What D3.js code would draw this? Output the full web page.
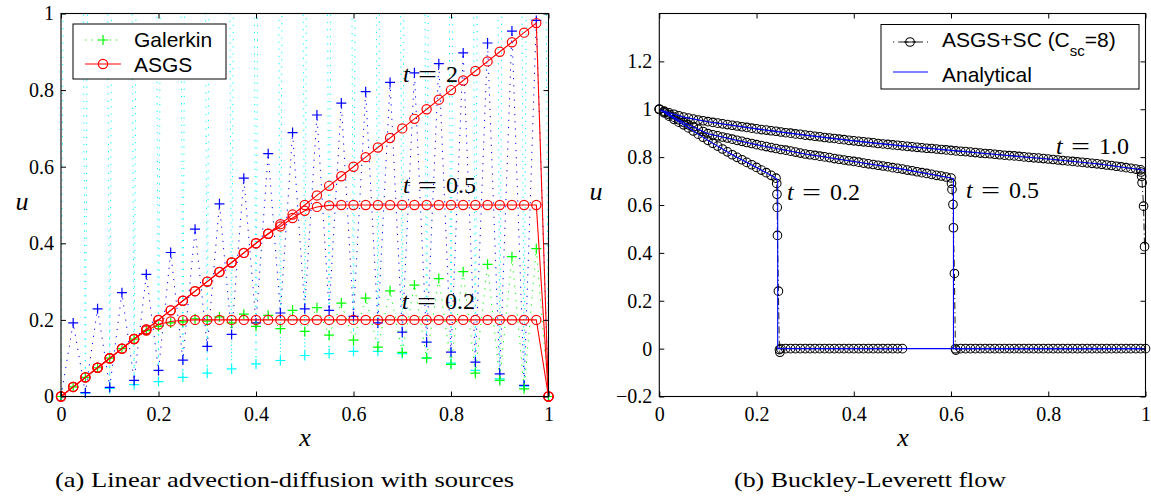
<!DOCTYPE html>
<html>
<head>
<meta charset="utf-8">
<script src="https://cdn.jsdelivr.net/npm/d3@7"></script>
<style>
body { margin: 0; background: #fff; }
</style>
</head>
<body>
<svg id="fig" width="1151" height="496"></svg>
<script>
// ---- left panel: linear advection-diffusion, mesh h = 0.025
var xNodes = [0,0.025,0.05,0.075,0.1,0.125,0.15,0.175,0.2,0.225,0.25,0.275,0.3,0.325,0.35,0.375,0.4,0.425,0.45,0.475,
  0.5,0.525,0.55,0.575,0.6,0.625,0.65,0.675,0.7,0.725,0.75,0.775,0.8,0.825,0.85,0.875,0.9,0.925,0.95,0.975,1];

// Galerkin (odd/even oscillation), t = 2 (blue), t = 0.5 (cyan), t = 0.2 (green)
var galT2 = [0,0.192,0.010,0.229,0.024,0.271,0.042,0.319,0.068,0.376,0.095,0.437,0.131,0.503,0.162,0.570,0.192,0.634,0.218,0.689,
  0.229,0.735,0.225,0.766,0.209,0.796,0.192,0.820,0.168,0.845,0.142,0.869,0.116,0.897,0.090,0.923,0.059,0.954,0.029,0.982,0];
var galT05 = [0,5.8,0.009,6.1,0.021,6.3,0.031,6.4,0.039,6.6,0.050,6.7,0.061,6.8,0.072,6.9,0.085,7.0,0.094,7.0,
  0.107,7.1,0.112,7.1,0.118,7.0,0.118,7.0,0.112,6.9,0.101,6.8,0.087,6.6,0.068,6.4,0.046,6.0,0.027,5.5,0];
var galT02 = [0,0.025,0.05,0.075,0.1,0.125,0.15,0.172,0.183,0.192,0.195,0.203,0.197,0.208,0.192,0.215,0.183,0.212,0.177,0.225,
  0.170,0.232,0.160,0.244,0.147,0.257,0.129,0.276,0.115,0.291,0.100,0.308,0.084,0.326,0.061,0.345,0.042,0.365,0.020,0.386,0];

// ASGS
var asgsT2 = [0,0.025,0.05,0.075,0.1,0.125,0.15,0.175,0.2,0.225,0.25,0.275,0.3,0.325,0.35,0.375,0.4,0.425,0.45,0.475,
  0.5,0.525,0.55,0.575,0.6,0.625,0.65,0.675,0.7,0.725,0.75,0.775,0.8,0.825,0.85,0.875,0.9,0.925,0.95,0.975,0];
var asgsT05 = [0,0.025,0.05,0.075,0.1,0.125,0.15,0.175,0.2,0.225,0.25,0.275,0.3,0.325,0.35,0.375,0.4,0.425,0.444,0.466,
  0.485,0.495,0.499,0.5,0.5,0.5,0.5,0.5,0.5,0.5,0.5,0.5,0.5,0.5,0.5,0.5,0.5,0.5,0.5,0.5,0];
var asgsT02 = [0,0.025,0.05,0.075,0.1,0.125,0.15,0.172,0.188,0.196,0.199,0.2,0.2,0.2,0.2,0.2,0.2,0.2,0.2,0.2,
  0.2,0.2,0.2,0.2,0.2,0.2,0.2,0.2,0.2,0.2,0.2,0.2,0.2,0.2,0.2,0.2,0.2,0.2,0.2,0.2,0];

// ---- right panel: Buckley-Leverett, mesh h = 0.01
var meshR = [0,0.01,0.02,0.03,0.04,0.05,0.06,0.07,0.08,0.09,0.1,0.11,0.12,0.13,0.14,0.15,0.16,0.17,0.18,0.19,
  0.2,0.21,0.22,0.23,0.24,0.25,0.26,0.27,0.28,0.29,0.3,0.31,0.32,0.33,0.34,0.35,0.36,0.37,0.38,0.39,
  0.4,0.41,0.42,0.43,0.44,0.45,0.46,0.47,0.48,0.49,0.5,0.51,0.52,0.53,0.54,0.55,0.56,0.57,0.58,0.59,
  0.6,0.61,0.62,0.63,0.64,0.65,0.66,0.67,0.68,0.69,0.7,0.71,0.72,0.73,0.74,0.75,0.76,0.77,0.78,0.79,
  0.8,0.81,0.82,0.83,0.84,0.85,0.86,0.87,0.88,0.89,0.9,0.91,0.92,0.93,0.94,0.95,0.96,0.97,0.98,0.99,1];

// ASGS+SC, t = 1.0 : nodes 0..0.99 then points at the front
var bl10Head = [1.000,0.992,0.985,0.979,0.973,0.967,0.963,0.959,0.955,0.952,
  0.948,0.945,0.942,0.939,0.936,0.933,0.930,0.927,0.924,0.921,
  0.918,0.915,0.913,0.910,0.908,0.905,0.902,0.900,0.897,0.895,
  0.892,0.890,0.887,0.885,0.882,0.880,0.878,0.875,0.873,0.870,
  0.868,0.866,0.864,0.862,0.860,0.857,0.855,0.853,0.851,0.849,
  0.847,0.845,0.843,0.841,0.839,0.837,0.836,0.834,0.832,0.830,
  0.828,0.826,0.824,0.823,0.821,0.819,0.817,0.815,0.814,0.812,
  0.810,0.808,0.806,0.805,0.803,0.801,0.799,0.797,0.796,0.794,
  0.792,0.790,0.788,0.786,0.784,0.782,0.780,0.778,0.776,0.774,
  0.772,0.770,0.767,0.765,0.762,0.759,0.756,0.753,0.750,0.747];
var bl10FrontX = [0.991,0.992,0.993,0.996,0.998];
var bl10FrontU = [0.738,0.720,0.693,0.595,0.426];

// t = 0.5 : nodes 0..0.60, front, zeros 0.62..1
var bl05Head = [1.000,0.989,0.978,0.967,0.956,0.945,0.935,0.926,0.916,0.907,
  0.898,0.893,0.889,0.884,0.880,0.875,0.870,0.866,0.861,0.857,
  0.852,0.848,0.844,0.840,0.836,0.832,0.829,0.825,0.821,0.817,
  0.813,0.810,0.807,0.804,0.801,0.798,0.794,0.791,0.788,0.785,
  0.782,0.779,0.775,0.772,0.769,0.766,0.763,0.760,0.756,0.753,
  0.750,0.746,0.743,0.739,0.735,0.732,0.728,0.724,0.721,0.717,0.713];
var bl05FrontX = [0.601,0.602,0.604,0.605,0.607,0.609,0.61];
var bl05FrontU = [0.690,0.665,0.602,0.505,0.314,0.0,-0.006];
var bl05Tail = [0,0,0,0,0,0,0,0,0,0,0,0,0,0,0,0,0,0,0,0,0,0,0,0,0,0,0,0,0,0,0,0,0,0,0,0,0,0,0]; // meshR[62..100]

// t = 0.2 : nodes 0..0.24, front, zeros 0.26..0.5
var bl02Head = [1.000,0.985,0.971,0.958,0.946,0.935,0.922,0.909,0.896,0.883,
  0.870,0.858,0.846,0.834,0.822,0.810,0.799,0.789,0.778,0.768,
  0.757,0.746,0.735,0.724,0.712];
var bl02FrontX = [0.2415,0.242,0.2425,0.243,0.245,0.247,0.248,0.25];
var bl02FrontU = [0.690,0.645,0.590,0.473,0.240,-0.004,-0.015,0.0];
var bl02Tail = [0,0,0,0,0,0,0,0,0,0,0,0,0,0,0,0,0,0,0,0,0,0,0,0,0]; // meshR[26..50]

// analytical solutions
var an02X = [0,0.05,0.1,0.15,0.2,0.235,0.2435,0.2435,1];
var an02U = [1,0.935,0.87,0.81,0.757,0.718,0.705,0,0];
var an05X = [0,0.05,0.1,0.2,0.3,0.4,0.5,0.6,0.605,0.605,1];
var an05U = [1,0.945,0.898,0.852,0.813,0.782,0.75,0.713,0.71,0,0];
var an10X = [0,0.02,0.05,0.1,0.2,0.3,0.4,0.5,0.6,0.7,0.8,0.9,1];
var an10U = [1,0.985,0.967,0.948,0.918,0.892,0.868,0.847,0.828,0.81,0.792,0.772,0.745];

var xTicks = [0,0.2,0.4,0.6,0.8,1];
var yTicksL = [0,0.2,0.4,0.6,0.8,1];
var yTicksR = [-0.2,0,0.2,0.4,0.6,0.8,1,1.2];

var serif = "'Liberation Serif','Times New Roman',serif";
var sans = "'Liberation Sans',Arial,sans-serif";

var svg = d3.select("#fig");

function pts(xs, us) { return xs.map(function(d, i) { return [d, us[i]]; }); }

function makePanel(id, xr, yr, ydom) {
  var p = {};
  p.x = d3.scaleLinear().domain([0, 1]).range(xr);
  p.y = d3.scaleLinear().domain(ydom).range(yr);
  svg.append("clipPath").attr("id", id).append("rect")
    .attr("x", xr[0]).attr("y", yr[1])
    .attr("width", xr[1] - xr[0]).attr("height", yr[0] - yr[1]);
  p.clip = "url(#" + id + ")";
  p.line = d3.line().x(function(d) { return p.x(d[0]); }).y(function(d) { return p.y(d[1]); });
  p.inside = function(d) { return d[1] >= ydom[0] - 1e-9 && d[1] <= ydom[1] + 1e-9; };
  return p;
}

function fmt(d) { return d < 0 ? "\u2212" + (-d) : String(d); }

function drawAxes(p, yTicks) {
  var xr = p.x.range(), yr = p.y.range();
  function style(g, labels) {
    g.select(".domain").remove();
    g.selectAll("line").attr("stroke", "#000");
    g.selectAll("text").attr("fill", "#000");
    g.attr("font-family", serif).attr("font-size", 20);
    if (!labels) g.selectAll("text").remove();
  }
  svg.append("g").attr("transform", "translate(0," + yr[0] + ")")
    .call(d3.axisBottom(p.x).tickValues(xTicks).tickFormat(fmt).tickSizeInner(-5).tickSizeOuter(0).tickPadding(10))
    .call(style, true);
  svg.append("g").attr("transform", "translate(0," + yr[1] + ")")
    .call(d3.axisTop(p.x).tickValues(xTicks).tickSizeInner(-5).tickSizeOuter(0))
    .call(style, false);
  svg.append("g").attr("transform", "translate(" + xr[0] + ",0)")
    .call(d3.axisLeft(p.y).tickValues(yTicks).tickFormat(fmt).tickSizeInner(-5).tickSizeOuter(0).tickPadding(7))
    .call(style, true);
  svg.append("g").attr("transform", "translate(" + xr[1] + ",0)")
    .call(d3.axisRight(p.y).tickValues(yTicks).tickSizeInner(-5).tickSizeOuter(0))
    .call(style, false);
  svg.append("rect")
    .attr("x", xr[0]).attr("y", yr[1])
    .attr("width", xr[1] - xr[0]).attr("height", yr[0] - yr[1])
    .attr("fill", "none").attr("stroke", "#000").attr("stroke-width", 1.1);
}

function plus(g, data, p, color) {
  g.selectAll(null).data(data.filter(p.inside)).enter().append("path")
    .attr("d", "M-5,0H5M0,-5V5")
    .attr("transform", function(d) { return "translate(" + p.x(d[0]) + "," + p.y(d[1]) + ")"; })
    .attr("stroke", color).attr("stroke-width", 1.2).attr("fill", "none");
}

function rings(g, data, p, color, r, w) {
  g.selectAll(null).data(data.filter(p.inside)).enter().append("circle")
    .attr("cx", function(d) { return p.x(d[0]); })
    .attr("cy", function(d) { return p.y(d[1]); })
    .attr("r", r).attr("fill", "none").attr("stroke", color).attr("stroke-width", w);
}

function mathLabel(x, y, val) {
  var t = svg.append("text").attr("y", y).attr("font-family", serif).attr("font-size", 24).attr("fill", "#000");
  t.append("tspan").attr("x", x).attr("font-style", "italic").text("t");
  t.append("tspan").attr("x", x + 15).attr("textLength", 19).attr("lengthAdjust", "spacingAndGlyphs").text("=");
  t.append("tspan").attr("x", x + 43).text(val);
}

// ================= LEFT PANEL =================
var L = makePanel("clipL", [61, 548.5], [396.5, 13.5], [0, 1]);
var gL = svg.append("g");

var galSeries = [
  {u: galT05, c: "#00ffff"},
  {u: galT2, c: "#0000ff"},
  {u: galT02, c: "#00ff00"}
];
galSeries.forEach(function(s) {
  var d = pts(xNodes, s.u);
  gL.append("path").attr("d", L.line(d)).attr("clip-path", L.clip)
    .attr("fill", "none").attr("stroke", s.c).attr("stroke-width", 1)
    .attr("stroke-dasharray", "1.2,6");
  plus(gL, d, L, s.c);
});

[asgsT02, asgsT05, asgsT2].forEach(function(u) {
  var d = pts(xNodes, u);
  gL.append("path").attr("d", L.line(d)).attr("clip-path", L.clip)
    .attr("fill", "none").attr("stroke", "#ff0000").attr("stroke-width", 1.1);
  rings(gL, d, L, "#ff0000", 4.6, 1.2);
});

drawAxes(L, yTicksL);

mathLabel(403, 82, "2");
mathLabel(403, 193, "0.5");
mathLabel(402, 309, "0.2");

// legend
var lgL = svg.append("g");
lgL.append("rect").attr("x", 73).attr("y", 24).attr("width", 153).attr("height", 55)
  .attr("fill", "#fff").attr("stroke", "#000").attr("stroke-width", 1);
lgL.append("line").attr("x1", 85).attr("x2", 121).attr("y1", 40).attr("y2", 40)
  .attr("stroke", "#00ff00").attr("stroke-dasharray", "1.2,5");
lgL.append("path").attr("d", "M98,40H108M103,35V45").attr("stroke", "#00ff00").attr("stroke-width", 1.2);
lgL.append("line").attr("x1", 85).attr("x2", 121).attr("y1", 64).attr("y2", 64)
  .attr("stroke", "#ff0000").attr("stroke-width", 1.1);
lgL.append("circle").attr("cx", 103).attr("cy", 64).attr("r", 4.6)
  .attr("fill", "none").attr("stroke", "#ff0000").attr("stroke-width", 1.2);
lgL.append("text").attr("x", 134).attr("y", 47).attr("font-family", sans).attr("font-size", 21).text("Galerkin");
lgL.append("text").attr("x", 134).attr("y", 72).attr("font-family", sans).attr("font-size", 21).text("ASGS");

svg.append("text").attr("x", 305).attr("y", 446).attr("text-anchor", "middle")
  .attr("font-family", serif).attr("font-style", "italic").attr("font-size", 26).text("x");
svg.append("text").attr("x", 22).attr("y", 210).attr("text-anchor", "middle")
  .attr("font-family", serif).attr("font-style", "italic").attr("font-size", 26).text("u");
svg.append("text").attr("x", 55).attr("y", 487).attr("textLength", 459).attr("lengthAdjust", "spacingAndGlyphs")
  .attr("font-family", serif).attr("font-size", 21).text("(a) Linear advection-diffusion with sources");

// ================= RIGHT PANEL =================
var R = makePanel("clipR", [659.3, 1145.5], [396.5, 13.5], [-0.2, 1.4]);
var gR = svg.append("g");

function blSeries(head, fx, fu, tail, tailStart) {
  var d = pts(meshR.slice(0, head.length), head).concat(pts(fx, fu));
  if (tail) d = d.concat(pts(meshR.slice(tailStart, tailStart + tail.length), tail));
  return d;
}
var bl = [
  blSeries(bl10Head, bl10FrontX, bl10FrontU, null, 0),
  blSeries(bl05Head, bl05FrontX, bl05FrontU, bl05Tail, 62),
  blSeries(bl02Head, bl02FrontX, bl02FrontU, bl02Tail, 26)
];
bl.forEach(function(d) {
  gR.append("path").attr("d", R.line(d)).attr("clip-path", R.clip)
    .attr("fill", "none").attr("stroke", "#000").attr("stroke-width", 0.9)
    .attr("stroke-dasharray", "7,3,1.2,3");
  rings(gR, d, R, "#000", 4.3, 1.05);
});

[pts(an02X, an02U), pts(an05X, an05U), pts(an10X, an10U)].forEach(function(d) {
  gR.append("path").attr("d", R.line(d)).attr("clip-path", R.clip)
    .attr("fill", "none").attr("stroke", "#0000ff").attr("stroke-width", 1.1);
});

drawAxes(R, yTicksR);

mathLabel(787, 200, "0.2");
mathLabel(966, 198, "0.5");
mathLabel(1056, 154, "1.0");

var lgR = svg.append("g");
lgR.append("rect").attr("x", 881).attr("y", 24.5).attr("width", 258).attr("height", 64.5)
  .attr("fill", "#fff").attr("stroke", "#000").attr("stroke-width", 1);
lgR.append("line").attr("x1", 893).attr("x2", 928).attr("y1", 42).attr("y2", 42)
  .attr("stroke", "#000").attr("stroke-width", 0.9).attr("stroke-dasharray", "1.2,4,1.2,0,8,0");
lgR.append("line").attr("x1", 904).attr("x2", 916).attr("y1", 42).attr("y2", 42)
  .attr("stroke", "#000").attr("stroke-width", 0.9);
lgR.append("circle").attr("cx", 910).attr("cy", 42).attr("r", 4.3)
  .attr("fill", "none").attr("stroke", "#000").attr("stroke-width", 1.05);
lgR.append("line").attr("x1", 893).attr("x2", 928).attr("y1", 72).attr("y2", 72)
  .attr("stroke", "#0000ff").attr("stroke-width", 1.1);
var t1 = lgR.append("text").attr("x", 942).attr("y", 47).attr("font-family", sans).attr("font-size", 21);
t1.append("tspan").text("ASGS+SC (C");
t1.append("tspan").attr("font-size", 15).attr("dy", 9).text("sc");
t1.append("tspan").attr("dy", -9).text("=8)");
lgR.append("text").attr("x", 942).attr("y", 82).attr("font-family", sans).attr("font-size", 21).text("Analytical");

svg.append("text").attr("x", 903).attr("y", 446).attr("text-anchor", "middle")
  .attr("font-family", serif).attr("font-style", "italic").attr("font-size", 26).text("x");
svg.append("text").attr("x", 596).attr("y", 200).attr("text-anchor", "middle")
  .attr("font-family", serif).attr("font-style", "italic").attr("font-size", 26).text("u");
svg.append("text").attr("x", 734).attr("y", 487).attr("textLength", 272).attr("lengthAdjust", "spacingAndGlyphs")
  .attr("font-family", serif).attr("font-size", 21).text("(b) Buckley-Leverett flow");
</script>
</body>
</html>
